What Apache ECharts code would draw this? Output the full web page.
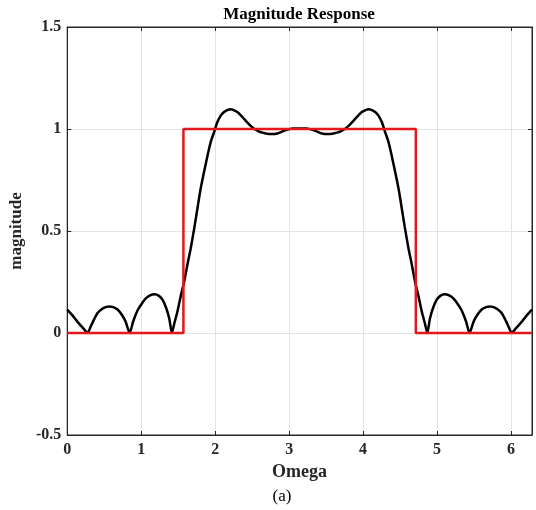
<!DOCTYPE html>
<html>
<head>
<meta charset="utf-8">
<script src="https://cdn.jsdelivr.net/npm/echarts@6/dist/echarts.min.js"></script>
<style>
  html, body { margin: 0; padding: 0; background: #fff; }
  #chart { width: 536px; height: 510px; }
</style>
</head>
<body>
<div id="chart"></div>
<script>
// black curve: magnitude
const omega = [
  0, 0.05, 0.10, 0.15, 0.20, 0.24, 0.275, 0.31, 0.35, 0.41, 0.47, 0.53, 0.57, 0.62, 0.68, 0.74, 0.79, 0.845,
  0.89, 0.95, 1.0, 1.06, 1.12, 1.18, 1.24, 1.29, 1.34, 1.38, 1.415, 1.45, 1.49, 1.54, 1.58, 1.63, 1.67, 1.72,
  1.76, 1.80, 1.85, 1.90, 1.94, 1.99, 2.03, 2.08, 2.12, 2.17, 2.21, 2.25, 2.30, 2.35, 2.39, 2.44, 2.48, 2.53,
  2.58, 2.64, 2.70, 2.77, 2.84, 2.91, 2.98, 3.05, 3.1416,
  3.233, 3.303, 3.373, 3.443, 3.513, 3.583, 3.643, 3.703, 3.753, 3.803, 3.843, 3.893, 3.933, 3.983, 4.033, 4.073,
  4.113, 4.163, 4.203, 4.253, 4.293, 4.343, 4.383, 4.433, 4.483, 4.523, 4.563, 4.613, 4.653, 4.703, 4.743, 4.793,
  4.833, 4.868, 4.903, 4.943, 4.993, 5.043, 5.103, 5.163, 5.223, 5.283, 5.333, 5.393, 5.438, 5.493, 5.543, 5.603,
  5.663, 5.713, 5.753, 5.813, 5.873, 5.933, 5.973, 6.008, 6.043, 6.083, 6.133, 6.183, 6.233, 6.2832
]
const magnitude = [
  0.115, 0.095, 0.073, 0.05, 0.03, 0.013, 0, 0.025, 0.057, 0.098, 0.118, 0.128, 0.13, 0.127, 0.115, 0.088, 0.055, 0,
  0.055, 0.11, 0.14, 0.168, 0.184, 0.19, 0.182, 0.162, 0.12, 0.07, 0, 0.05, 0.105, 0.19, 0.25, 0.345, 0.415, 0.52,
  0.61, 0.70, 0.79, 0.875, 0.937, 0.99, 1.034, 1.068, 1.083, 1.094, 1.097, 1.093, 1.083, 1.066, 1.05, 1.03, 1.015, 1.0,
  0.99, 0.982, 0.977, 0.975, 0.978, 0.988, 0.997, 1.002, 1.003,
  1.002, 0.997, 0.988, 0.978, 0.975, 0.977, 0.982, 0.99, 1.0, 1.015, 1.03, 1.05, 1.066, 1.083, 1.093, 1.097,
  1.094, 1.083, 1.068, 1.034, 0.99, 0.937, 0.875, 0.79, 0.70, 0.61, 0.52, 0.415, 0.345, 0.25, 0.19, 0.105,
  0.05, 0, 0.07, 0.12, 0.162, 0.182, 0.19, 0.184, 0.168, 0.14, 0.11, 0.055, 0, 0.055, 0.088, 0.115,
  0.127, 0.13, 0.128, 0.118, 0.098, 0.057, 0.025, 0, 0.013, 0.03, 0.05, 0.073, 0.095, 0.115
]

// red ideal response
const idealOmega = [0, 1.5708, 1.5708, 4.7124, 4.7124, 6.2832]
const idealMag = [0, 0, 1, 1, 0, 0]

const xTicks = [0, 1, 2, 3, 4, 5, 6]
const yTicks = [-0.5, 0, 0.5, 1, 1.5]

const serif = '"Liberation Serif", "Times New Roman", serif'
const ink = '#262626'

const chart = echarts.init(document.getElementById('chart'))

const toPairs = (xs, ys) => xs.map((x, i) => [x, ys[i]])

const baseLabel = {
  color: ink,
  fontFamily: serif,
  fontWeight: 'bold',
  fontSize: 16,
}

chart.setOption({
  animation: false,
  backgroundColor: '#fff',
  grid: {
    left: 66,
    right: 4,
    top: 27,
    bottom: 75,
    show: true,
    borderColor: ink,
    borderWidth: 1,
  },
  graphic: [
    {
      type: 'text',
      x: 299,
      y: 15,
      style: {
        text: 'Magnitude Response',
        align: 'center',
        verticalAlign: 'middle',
        fill: '#000',
        font: 'bold 17px ' + serif,
      },
    },
    {
      type: 'text',
      x: 282,
      y: 497,
      style: {
        text: '(a)',
        align: 'center',
        verticalAlign: 'middle',
        fill: '#000',
        font: '17px ' + serif,
      },
    },
  ],
  xAxis: [
    {
      type: 'value',
      min: 0,
      max: 6.2832,
      interval: 1,
      name: 'Omega',
      nameLocation: 'middle',
      nameGap: 25,
      nameTextStyle: { ...baseLabel, fontSize: 18 },
      axisLine: { onZero: false, lineStyle: { color: ink, width: 1 } },
      axisTick: { inside: true, length: 4, lineStyle: { color: ink } },
      axisLabel: {
        ...baseLabel,
        margin: 7,
        formatter: (v) => (xTicks.includes(v) ? String(v) : ''),
      },
      splitLine: { show: true, lineStyle: { color: '#e3e3e3', width: 1 } },
    },
    {
      type: 'value',
      position: 'top',
      min: 0,
      max: 6.2832,
      interval: 1,
      axisLine: { show: true, onZero: false, lineStyle: { color: ink, width: 1 } },
      axisTick: { inside: true, length: 4, lineStyle: { color: ink } },
      axisLabel: { show: false },
      splitLine: { show: false },
    },
  ],
  yAxis: [
    {
      type: 'value',
      min: -0.5,
      max: 1.5,
      interval: 0.5,
      name: 'magnitude',
      nameLocation: 'middle',
      nameGap: 36,
      nameTextStyle: { ...baseLabel, fontSize: 17 },
      axisLine: { show: true, onZero: false, lineStyle: { color: ink, width: 1 } },
      axisTick: { show: true, inside: true, length: 4, lineStyle: { color: ink } },
      axisLabel: {
        ...baseLabel,
        margin: 6,
        formatter: (v) => (yTicks.includes(v) ? String(v) : ''),
      },
      splitLine: { show: true, lineStyle: { color: '#e3e3e3', width: 1 } },
    },
    {
      type: 'value',
      position: 'right',
      min: -0.5,
      max: 1.5,
      interval: 0.5,
      axisLine: { show: true, onZero: false, lineStyle: { color: ink, width: 1 } },
      axisTick: { show: true, inside: true, length: 4, lineStyle: { color: ink } },
      axisLabel: { show: false },
      splitLine: { show: false },
    },
  ],
  series: [
    {
      name: 'response',
      type: 'line',
      data: toPairs(omega, magnitude),
      showSymbol: false,
      smooth: 0.2,
      lineStyle: { color: '#000', width: 2.5 },
      z: 3,
    },
    {
      name: 'ideal',
      type: 'line',
      data: toPairs(idealOmega, idealMag),
      showSymbol: false,
      lineStyle: { color: '#e3171c', width: 2.5 },
      z: 4,
    },
  ],
})
</script>
</body>
</html>
